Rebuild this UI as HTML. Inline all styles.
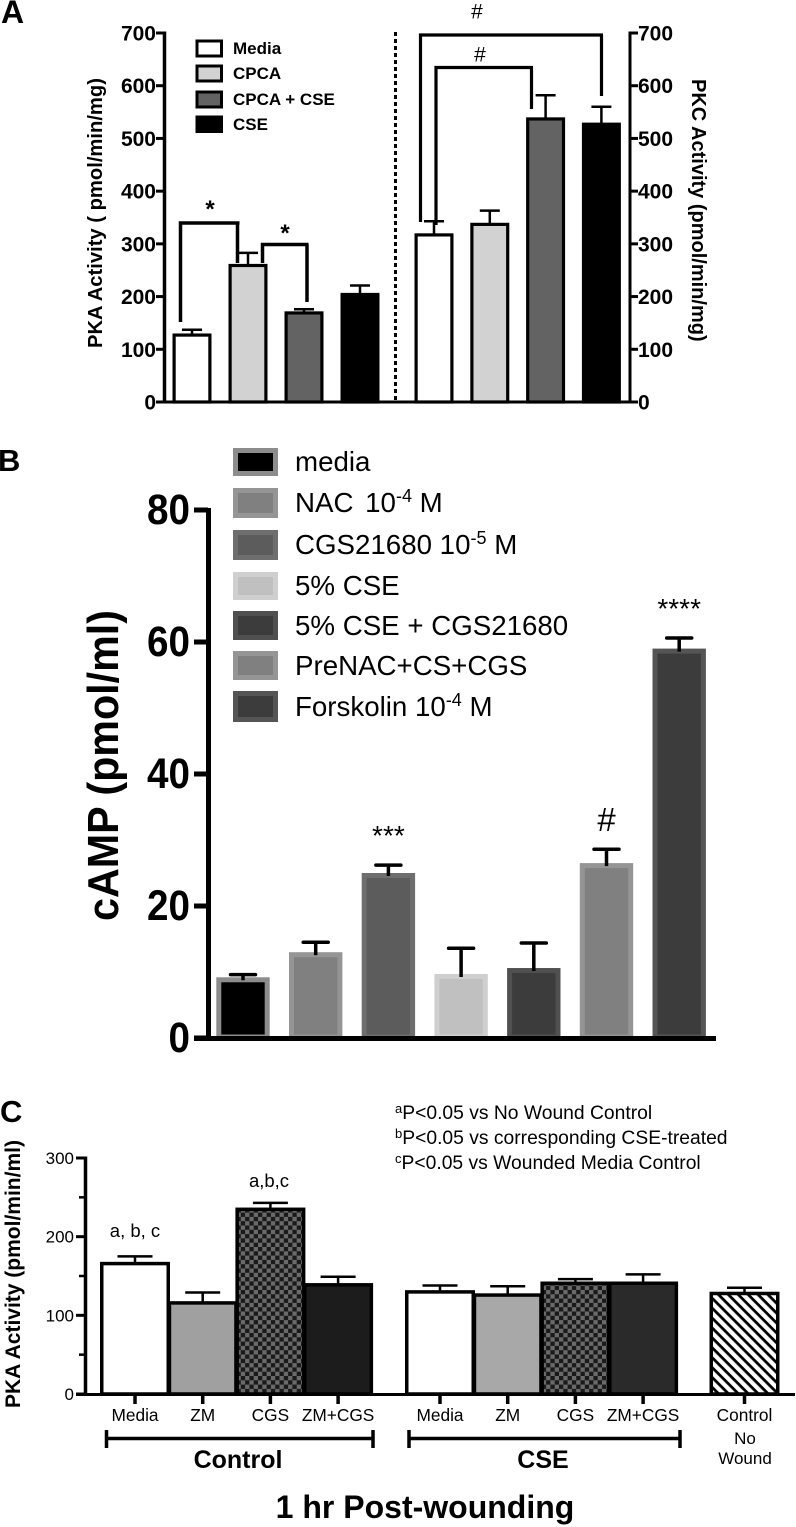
<!DOCTYPE html>
<html lang="en">
<head>
<meta charset="utf-8">
<title>PKA, cAMP and PKC activity charts</title>
<style>
html,body{margin:0;padding:0;background:#fff;}
svg{display:block;}
text{font-family:"Liberation Sans",Arial,sans-serif;fill:#000;}
.b{font-weight:bold;}
</style>
</head>
<body>
<svg id="fig" xmlns="http://www.w3.org/2000/svg" width="796" height="1527" viewBox="0 0 796 1527">
<defs>
<pattern id="check" width="8.6" height="8.6" patternUnits="userSpaceOnUse">
<rect width="8.6" height="8.6" fill="#6a6a6a"/>
<rect width="4.3" height="4.3" fill="#1a1a1a"/>
<rect x="4.3" y="4.3" width="4.3" height="4.3" fill="#1a1a1a"/>
</pattern>
<pattern id="hatch" width="7" height="7" patternUnits="userSpaceOnUse" patternTransform="rotate(45)">
<rect width="7" height="7" fill="#fff"/>
<rect width="7" height="2.8" fill="#000"/>
</pattern>
</defs>

<text class="b" x="1" y="23" font-size="32">A</text>
<text class="b" x="-2" y="471" font-size="31">B</text>
<text class="b" x="0" y="1122" font-size="31">C</text>

<!-- Panel A static -->
<text class="b" font-size="20.2" transform="translate(102,348) rotate(-90)">PKA Activity ( pmol/min/mg)</text>
<text class="b" font-size="20" transform="translate(692,79) rotate(90)">PKC Activity (pmol/min/mg)</text>
<line x1="395.5" y1="32" x2="395.5" y2="400" stroke="#000" stroke-width="3" stroke-dasharray="4 3"/>

<g>
<rect x="197" y="41" width="24.500" height="15" fill="#fff" stroke="#000" stroke-width="3"/>
<text class="b" x="233" y="54" font-size="17">Media</text>
<rect x="197" y="66" width="24.500" height="15" fill="#d2d2d2" stroke="#000" stroke-width="3"/>
<text class="b" x="233" y="79" font-size="17">CPCA</text>
<rect x="197" y="92" width="24.500" height="15" fill="#636363" stroke="#000" stroke-width="3"/>
<text class="b" x="233" y="105" font-size="17">CPCA + CSE</text>
<rect x="195.500" y="115.500" width="27.500" height="17.500" fill="#000"/>
<text class="b" x="233" y="130" font-size="17">CSE</text>
</g>

<!-- Panel B static -->
<text class="b" font-size="44" textLength="311" lengthAdjust="spacingAndGlyphs" transform="translate(118,921) rotate(-90)">cAMP (pmol/ml)</text>
<g>
<rect x="235.500" y="450.500" width="40" height="23" fill="#000" stroke="#8c8c8c" stroke-width="5"/>
<text x="295" y="471" font-size="27.700">media</text>
<rect x="235.500" y="490.500" width="40" height="25" fill="#808080" stroke="#959595" stroke-width="5"/>
<text x="295" y="512" font-size="27.700">NAC<tspan dx="4"> 10</tspan><tspan dy="-10" font-size="18">-4</tspan><tspan dy="10"> M</tspan></text>
<rect x="235.500" y="532.500" width="40" height="25" fill="#5c5c5c" stroke="#6e6e6e" stroke-width="5"/>
<text x="295" y="554" font-size="27.700">CGS21680 10<tspan dy="-10" font-size="18">-5</tspan><tspan dy="10"> M</tspan></text>
<rect x="235.500" y="574.500" width="40" height="23" fill="#c0c0c0" stroke="#cfcfcf" stroke-width="5"/>
<text x="295" y="595" font-size="27.700">5% CSE</text>
<rect x="235.500" y="613.500" width="40" height="24" fill="#3c3c3c" stroke="#505050" stroke-width="5"/>
<text x="295" y="635" font-size="27.700">5% CSE + CGS21680</text>
<rect x="235.500" y="653.500" width="40" height="24" fill="#808080" stroke="#959595" stroke-width="5"/>
<text x="295" y="675" font-size="27.700">PreNAC+CS+CGS</text>
<rect x="235.500" y="693.500" width="40" height="26" fill="#3c3c3c" stroke="#555555" stroke-width="5"/>
<text x="295" y="716" font-size="27.700">Forskolin 10<tspan dy="-10" font-size="18">-4</tspan><tspan dy="10"> M</tspan></text>
</g>

<!-- Panel C static -->
<text class="b" font-size="21" transform="translate(20,1408) rotate(-90)">PKA Activity (pmol/min/ml)</text>
<g font-size="19.300">
<text x="395" y="1119"><tspan font-size="13" dy="-6">a</tspan><tspan dy="6">P&lt;0.05 vs No Wound Control</tspan></text>
<text x="395" y="1144"><tspan font-size="13" dy="-6">b</tspan><tspan dy="6">P&lt;0.05 vs corresponding CSE-treated</tspan></text>
<text x="395" y="1169"><tspan font-size="13" dy="-6">c</tspan><tspan dy="6">P&lt;0.05 vs Wounded Media Control</tspan></text>
</g>
<text x="135" y="1237" font-size="18.500" text-anchor="middle">a, b, c</text>
<text x="269" y="1187" font-size="18.500" text-anchor="middle">a,b,c</text>

<path d="M106.500 1430V1448M106.500 1438.500H373M373 1430V1448" fill="none" stroke="#000" stroke-width="3.500"/>
<path d="M409 1430V1448M409 1438.500H680M680 1430V1448" fill="none" stroke="#000" stroke-width="3.500"/>
<text class="b" x="238" y="1468" font-size="25" text-anchor="middle">Control</text>
<text class="b" x="543" y="1468" font-size="25" text-anchor="middle">CSE</text>
<text x="745" y="1444" font-size="17" text-anchor="middle">No</text>
<text x="745" y="1464" font-size="17" text-anchor="middle">Wound</text>
<text class="b" x="425" y="1518" font-size="32" text-anchor="middle">1 hr Post-wounding</text>
</svg>

<script>
// ---------- Panel A data ----------
const aTickLabels = [0, 100, 200, 300, 400, 500, 600, 700];
const aCategories = ['Media', 'CPCA', 'CPCA + CSE', 'CSE'];
const pkaValues = [130, 262, 172, 207];
const pkaErrorTops = [137, 283, 176, 221];
const pkcValues = [320, 340, 540, 530];
const pkcErrorTops = [343, 363, 582, 560];

// ---------- Panel B data ----------
const bTickLabels = [0, 20, 40, 60, 80];
const bCategories = ['media', 'NAC', 'CGS21680', '5% CSE', '5% CSE + CGS21680', 'PreNAC+CS+CGS', 'Forskolin'];
const campValues = [9.2, 13, 25, 9.7, 10.6, 26.5, 59];
const campErrorTops = [9.6, 14.5, 26.2, 13.6, 14.4, 28.6, 60.6];
const campMarks = ['', '', '***', '', '', '#', '****'];

// ---------- Panel C data ----------
const cTickLabels = [0, 100, 200, 300];
const cMinorTicks = [50, 150, 250];
const cCategories = ['Media', 'ZM', 'CGS', 'ZM+CGS'];
const controlValues = [168, 118, 237, 141];
const controlErrorTops = [175, 129, 243, 149];
const cseValues = [132, 128, 143, 143];
const cseErrorTops = [138, 137, 146, 152];
const noWoundValues = [130];
const noWoundErrorTops = [135];
const noWoundCategories = ['Control'];

// ---------- Helpers ----------
const svg = document.getElementById('fig');
const NS = 'http://www.w3.org/2000/svg';
function mk(tag, attrs) {
  const el = document.createElementNS(NS, tag);
  for (const k in attrs) el.setAttribute(k, attrs[k]);
  svg.appendChild(el);
  return el;
}
function slug(s) {
  return String(s).toLowerCase().replace(/[^a-z0-9]+/g, '-').replace(/^-|-$/g, '');
}
function line(x1, y1, x2, y2, w, color, name, cap) {
  const el = mk('line', {x1: x1, y1: y1, x2: x2, y2: y2, stroke: color || '#000', 'stroke-width': w, 'stroke-linecap': cap || 'butt'});
  
  
  return el;
}
function label(x, y, str, size, anchor, bold, name, fit) {
  const el = mk('text', {x: x, y: y, 'font-size': size, 'text-anchor': anchor});
  if (bold) el.setAttribute('font-weight', 'bold');
  if (fit) {
    el.setAttribute('textLength', fit);
    el.setAttribute('lengthAdjust', 'spacingAndGlyphs');
  }
  el.textContent = str;
  
  
  return el;
}
// Draws one bar: outer edges are cx +/- halfW; stroke sits inside
function bar(cx, halfW, top, base, fill, stroke, sw, name) {
  const el = mk('rect', {x: cx - halfW + sw / 2, y: top + sw / 2, width: 2 * halfW - sw, height: base - top - sw / 2, fill: fill, stroke: stroke, 'stroke-width': sw});
  
  
  return el;
}
function errorBar(cx, topY, barY, capHalf, w, name, cap) {
  line(cx, topY, cx, barY, w, '#000', name + '-stem');
  line(cx - capHalf, topY, cx + capHalf, topY, w, '#000', name + '-cap', cap);
}

// ---------- Panel A ----------
const aY = v => 402 - v * (369 / 700);
const aLeftX = i => 192 + 56 * i;
const aRightX = i => 434 + 55.8 * i;
const aFills = ['#ffffff', '#d2d2d2', '#636363', '#000000'];

function drawA(vals, tops, xFn, prefix) {
  vals.forEach((v, i) => {
    const n = prefix + '-' + slug(aCategories[i]);
    errorBar(xFn(i), aY(tops[i]), aY(v) + 2, 10, 2.5, n + '-error');
    bar(xFn(i), 19.5, aY(v), 402, aFills[i], '#000', 3.2, n + '-bar');
  });
}
drawA(pkaValues, pkaErrorTops, aLeftX, 'pka');
drawA(pkcValues, pkcErrorTops, aRightX, 'pkc');

line(164.5, 31.5, 164.5, 403.5, 3.5, '#000', 'pka-y-axis');
line(630, 31.5, 630, 403.5, 3, '#000', 'pkc-y-axis');
line(156, 402, 631, 402, 3, '#000', 'panel-a-x-axis');
aTickLabels.forEach(t => {
  line(156, aY(t), 164, aY(t), 3, '#000', 'pka-y-tick-' + t);
  label(156, aY(t) + 7.5, t, 21, 'end', true, 'pka-y-tick-label-' + t);
  line(630, aY(t), 638, aY(t), 3, '#000', 'pkc-y-tick-' + t);
  label(638, aY(t) + 7.5, t, 21, 'start', true, 'pkc-y-tick-label-' + t);
});

// Significance brackets, panel A
function bracket(d, w, name) {
  const el = mk('path', {d: d, fill: 'none', stroke: '#000', 'stroke-width': w});
  
  
}
bracket('M180.500 322V223H239.500M237.500 223V263', 3.5, 'pka-media-cpca-bracket');
bracket('M262.500 263V244.500H308.500M307 244.500V302', 3.5, 'pka-cpca-cse-bracket');
bracket('M420.500 222V35H603M601.500 35V96', 3.2, 'pkc-media-cse-bracket');
bracket('M436 225V67.500H533M531.500 67.500V109', 3.2, 'pkc-media-cpca-cse-bracket');
label(210, 217, '*', 24, 'middle', true, 'pka-significance-star-1');
label(285, 241, '*', 24, 'middle', true, 'pka-significance-star-2');
label(477, 18.5, '#', 21, 'middle', false, 'pkc-significance-hash-1');
label(480, 61.5, '#', 21, 'middle', false, 'pkc-significance-hash-2');

// ---------- Panel B ----------
const bY = v => 1038 - v * 6.6;
const bX = i => 243 + 72.7 * i;
const bFills = ['#000000', '#808080', '#5c5c5c', '#c0c0c0', '#3c3c3c', '#808080', '#3c3c3c'];
const bEdges = ['#8c8c8c', '#959595', '#6e6e6e', '#cfcfcf', '#505050', '#959595', '#555555'];

campValues.forEach((v, i) => {
  const n = 'camp-' + slug(bCategories[i]);
  bar(bX(i), 26.7, bY(v), 1037, bFills[i], bEdges[i], 5, n + '-bar');
  errorBar(bX(i), bY(campErrorTops[i]), bY(v) + 3, 12.5, 3.5, n + '-error', 'round');
  if (campMarks[i]) {
    const isHash = campMarks[i] === '#';
    const off = isHash ? 18 : 20;
    label(bX(i), bY(campErrorTops[i]) - off, campMarks[i], isHash ? 33 : 28, 'middle', false, n + '-significance');
  }
});
line(208.5, 508, 208.5, 1040, 5, '#000', 'camp-y-axis');
line(194, 1038.5, 716, 1038.5, 5, '#000', 'camp-x-axis');
bTickLabels.forEach(t => {
  line(194, bY(t), 208, bY(t), 5, '#000', 'camp-y-tick-' + t);
  const digits = String(t).length;
  label(190, bY(t) + 14, t, 43, 'end', true, 'camp-y-tick-label-' + t, digits * 21.5);
});

// ---------- Panel C ----------
const cY = v => 1394 - v * (236 / 300);
const cCtrlX = i => 135 + 67.7 * i;
const cCseX = i => 440 + 67.7 * i;
const cNoWoundX = i => 744.5 + 68 * i;
const cFillsCtrl = ['#ffffff', '#a0a0a0', 'url(#check)', '#1c1c1c'];
const cFillsCse = ['#ffffff', '#a8a8a8', 'url(#check)', '#2a2a2a'];

function drawC(vals, tops, cats, xFn, fills, prefix) {
  vals.forEach((v, i) => {
    const n = prefix + '-' + slug(cats[i]);
    errorBar(xFn(i), cY(tops[i]), cY(v) + 2, 17.5, 2.5, n + '-error');
    bar(xFn(i), 35, cY(v), 1394, fills[i], '#000', 3.5, n + '-bar');
    line(xFn(i), 1394, xFn(i), 1404, 3.5, '#000', n + '-x-tick');
    label(xFn(i), 1421, cats[i], 17.3, 'middle', false, n + '-x-label');
  });
}
drawC(controlValues, controlErrorTops, cCategories, cCtrlX, cFillsCtrl, 'control');
drawC(cseValues, cseErrorTops, cCategories, cCseX, cFillsCse, 'cse');
drawC(noWoundValues, noWoundErrorTops, noWoundCategories, cNoWoundX, ['url(#hatch)'], 'no-wound');

line(85.5, 1156.5, 85.5, 1396, 3.5, '#000', 'pka-ml-y-axis');
line(76, 1394.5, 795, 1394.5, 3, '#000', 'panel-c-x-axis');
cTickLabels.forEach(t => {
  line(76, cY(t), 85, cY(t), 3, '#000', 'pka-ml-y-tick-' + t);
  label(74, cY(t) + 6, t, 17, 'end', false, 'pka-ml-y-tick-label-' + t);
});
cMinorTicks.forEach(t => {
  line(79, cY(t), 85, cY(t), 2.5, '#000', 'pka-ml-y-minor-tick-' + t);
});
</script>
</body>
</html>
